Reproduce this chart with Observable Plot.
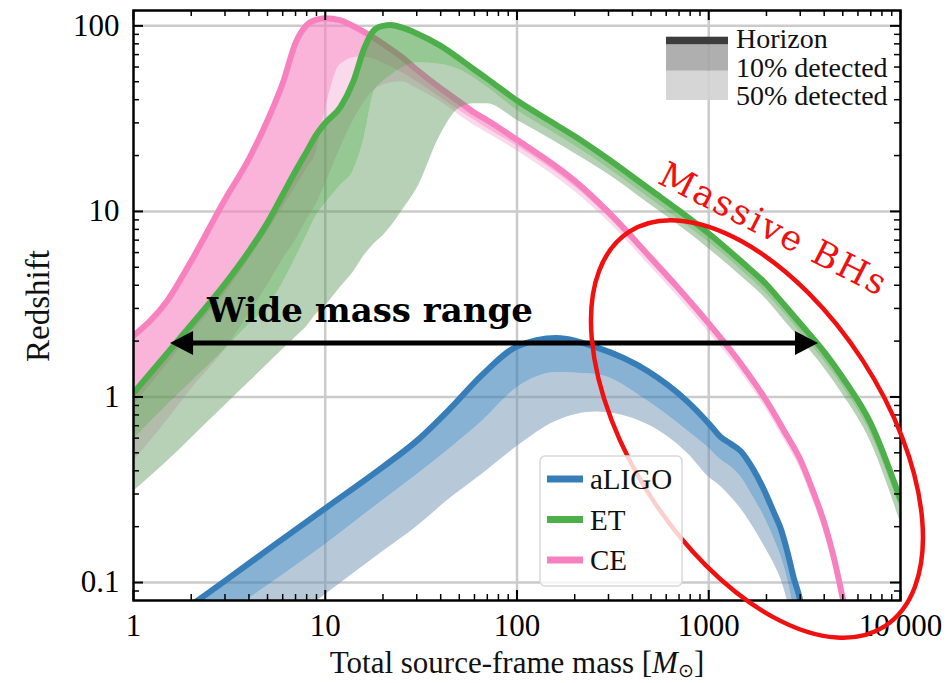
<!DOCTYPE html>
<html><head><meta charset="utf-8">
<script src="https://cdn.jsdelivr.net/npm/d3@7"></script>
<script src="https://cdn.jsdelivr.net/npm/@observablehq/plot@0.6"></script>
<style>body{margin:0;background:#fff} #chart{width:952px;height:683px}</style>
</head><body><div id="chart"></div>
<script>
// ---------- data (total source-frame mass [Msun] -> redshift) ----------
const ligoMass    = [1, 2, 3, 5, 10, 20, 30, 45, 65, 100, 160, 260, 480, 770, 1000, 1150, 1300, 1470, 1700, 1930, 2200, 2370, 2600, 2780, 3000, 3300];
const ligoHorizon = [0.045, 0.0756, 0.102, 0.15, 0.251, 0.42, 0.58, 0.87, 1.3, 1.87, 2.08, 1.85, 1.38, 0.95, 0.72, 0.61, 0.56, 0.51, 0.41, 0.32, 0.235, 0.196, 0.14, 0.105, 0.08, 0.04];
const ligo10      = [0.029, 0.048, 0.066, 0.096, 0.16, 0.277, 0.38, 0.53, 0.73, 1.12, 1.35, 1.32, 0.95, 0.66, 0.53, 0.46, 0.42, 0.37, 0.29, 0.23, 0.17, 0.14, 0.1, 0.07, 0.04, 0.02];
const ligo50      = [0.014, 0.024, 0.033, 0.05, 0.086, 0.147, 0.2, 0.285, 0.38, 0.54, 0.74, 0.83, 0.71, 0.5, 0.37, 0.33, 0.29, 0.25, 0.2, 0.16, 0.125, 0.105, 0.075, 0.05, 0.03, 0.015];

const etMass    = [1, 1.5, 2, 3, 4, 5, 6, 7, 8, 9, 10, 12, 14, 16, 18, 20, 22, 25, 30, 40, 50, 60, 70, 100, 150, 200, 300, 500, 700, 1000, 1500, 2000, 2500, 3000, 4000, 5000, 7000, 10000];
const etHorizon = [1.05, 1.72, 2.45, 4.07, 6.1, 8.7, 12.3, 16.5, 21, 26, 30, 36.5, 50, 76, 95, 100, 101, 98, 91, 78, 66.6, 58, 51.8, 39.6, 30.5, 25.4, 19.1, 13, 10.1, 7.6, 5.3, 4.04, 3.1, 2.49, 1.75, 1.27, 0.72, 0.28];
const et10      = [0.59, 0.9, 1.2, 1.8, 2.45, 3.05, 4.1, 5.6, 7.4, 9.5, 11, 13.8, 16.5, 25, 44, 50, 54, 59, 63, 62, 58, 52, 46.5, 35, 27, 22.5, 17, 11.6, 9.0, 6.8, 4.75, 3.6, 2.78, 2.22, 1.56, 1.13, 0.63, 0.245];
const et50      = [0.31, 0.45, 0.6, 0.9, 1.2, 1.5, 1.8, 2.1, 2.4, 2.8, 3.1, 3.9, 4.7, 5.8, 6.7, 7.4, 8.3, 10, 13.2, 26, 36, 38, 38, 31, 24.5, 20.5, 15.8, 10.8, 8.4, 6.3, 4.4, 3.35, 2.55, 2.05, 1.43, 1.03, 0.57, 0.21];

const ceMass    = [1, 1.5, 2, 3, 4, 5, 6, 7, 8, 9, 10, 12, 15, 18, 20, 25, 30, 40, 50, 60, 70, 100, 150, 200, 300, 500, 700, 1000, 1500, 2000, 2500, 3000, 3500, 4000, 4500, 5000, 5500];
const ceHorizon = [2.14, 3.3, 5.4, 11.6, 19.2, 31, 49, 81, 101, 108, 110, 107, 96, 86, 80, 68, 58, 46, 39, 34, 31, 24.3, 18.3, 14.6, 9.9, 5.6, 3.82, 2.49, 1.47, 0.953, 0.644, 0.46, 0.31, 0.21, 0.135, 0.082, 0.05];
const ce10      = [0.9, 1.5, 2.2, 3.6, 5.5, 7.8, 10.5, 13.5, 17, 21, 35, 62, 68, 66, 63, 56, 50, 41, 35, 31, 28, 22.5, 17, 13.6, 9.3, 5.3, 3.62, 2.36, 1.4, 0.905, 0.61, 0.435, 0.293, 0.198, 0.127, 0.077, 0.047];
const ce50      = [0.45, 0.75, 1.1, 1.8, 2.8, 4.0, 5.5, 7, 9, 11, 14, 22, 35, 45, 48, 50, 46, 39, 33, 29, 26.5, 21.2, 16, 12.8, 8.8, 5.0, 3.42, 2.23, 1.32, 0.855, 0.575, 0.41, 0.275, 0.186, 0.12, 0.072, 0.044];

const detectors = ["aLIGO", "ET", "CE"];
const detectorColors = ["#377eb8", "#4daf4a", "#f781bf"];
const bandLabels = ["Horizon", "10% detected", "50% detected"];

const xMajor = [1, 10, 100, 1000, 10000];
const xTickLabels = ["1", "10", "100", "1000", "10\u2009000"];
const yMajor = [0.1, 1, 10, 100];
const yTickLabels = ["0.1", "1", "10", "100"];

// annotations (data coordinates)
const arrowMass = [1.56, 3735];
const arrowZ = 1.94;
const wideLabel = {text: "Wide mass range", m: 17.2, z: 2.52};
const massiveLabel = {text: "Massive BHs", m: 2200, z: 8.0};
const ellipseCenter = {m: 1795, z: 0.668};

// ---------- layout ----------
const W = 952, H = 683, mL = 133, mR = 52, mT = 10, mB = 83;
const iw = W - mL - mR, ih = H - mT - mB;
const serif = "Liberation Serif, serif";

const rows = (mass, hz, p10, p50) => mass.map((m, i) => ({m, h: hz[i], p10: p10[i], p50: p50[i]}));
const series = [
  {data: rows(ceMass, ceHorizon, ce10, ce50), line: detectorColors[2], dark: "#f781bf", darkOp: 0.6, light: "#ee8cc2", lightOp: 0.33},
  {data: rows(etMass, etHorizon, et10, et50), line: detectorColors[1], dark: "#3f9a3d", darkOp: 0.55, light: "#5d9a5b", lightOp: 0.45},
  {data: rows(ligoMass, ligoHorizon, ligo10, ligo50), line: detectorColors[0], dark: "#377eb8", darkOp: 0.6, light: "#6f93b3", lightOp: 0.5}
];

const xMinor = [], yMinor = [];
for (const d of [1, 10, 100, 1000]) for (let k = 2; k <= 9; k++) xMinor.push(k * d);
for (const d of [0.01, 0.1, 1, 10]) for (let k = 2; k <= 9; k++) { const v = +(k * d).toPrecision(3); if (v > 0.08 && v < 121) yMinor.push(v); }

const curve = "monotone-x";
const plot = Plot.plot({
  width: W, height: H,
  marginLeft: mL, marginRight: mR, marginTop: mT, marginBottom: mB,
  style: {fontFamily: serif, background: "white", color: "black"},
  x: {type: "log", domain: [1, 10000]},
  y: {type: "log", domain: [0.08, 121]},
  marks: [
    Plot.ruleX(xMajor.slice(1, -1), {stroke: "#cbcbcb", strokeWidth: 2.5}),
    Plot.ruleY(yMajor, {stroke: "#cbcbcb", strokeWidth: 2.5}),
    ...series.flatMap(s => [
      Plot.areaY(s.data, {x: "m", y1: "p50", y2: "p10", fill: s.light, fillOpacity: s.lightOp, curve, clip: true}),
      Plot.areaY(s.data, {x: "m", y1: "p10", y2: "h", fill: s.dark, fillOpacity: s.darkOp, curve, clip: true}),
      Plot.line(s.data, {x: "m", y: "h", stroke: s.line, strokeWidth: 6, curve, clip: true})
    ]),
    // inward ticks on all four sides
    Plot.ruleX(xMajor, {stroke: "black", strokeWidth: 2, insetTop: ih - 10}),
    Plot.ruleX(xMajor, {stroke: "black", strokeWidth: 2, insetBottom: ih - 10}),
    Plot.ruleX(xMinor, {stroke: "black", strokeWidth: 1.5, insetTop: ih - 6}),
    Plot.ruleX(xMinor, {stroke: "black", strokeWidth: 1.5, insetBottom: ih - 6}),
    Plot.ruleY(yMajor, {stroke: "black", strokeWidth: 2, insetRight: iw - 10}),
    Plot.ruleY(yMajor, {stroke: "black", strokeWidth: 2, insetLeft: iw - 10}),
    Plot.ruleY(yMinor, {stroke: "black", strokeWidth: 1.5, insetRight: iw - 6}),
    Plot.ruleY(yMinor, {stroke: "black", strokeWidth: 1.5, insetLeft: iw - 6}),
    Plot.frame({stroke: "black", strokeWidth: 2.5}),
    Plot.axisX(xMajor, {tickSize: 0, tickPadding: 13, fontSize: 31, label: null, tickFormat: d => xTickLabels[xMajor.indexOf(d)]}),
    Plot.axisY(yMajor, {tickSize: 0, tickPadding: 14, fontSize: 31, label: null, tickFormat: d => yTickLabels[yMajor.indexOf(d)]})
  ]
});
document.getElementById("chart").appendChild(plot);

// ---------- annotations & legends ----------
const sx = plot.scale("x"), sy = plot.scale("y");
const svg = d3.select(plot);
const g = svg.append("g");

// axis titles
const xt = g.append("text").attr("x", 517).attr("y", 673).attr("text-anchor", "middle")
  .attr("font-family", serif).attr("font-size", 31).attr("fill", "#111");
xt.append("tspan").text("Total source-frame mass [");
xt.append("tspan").attr("font-style", "italic").text("M");
xt.append("tspan").attr("font-size", 19).attr("dy", 4).text("\u2299");
xt.append("tspan").attr("dy", -4).text("]");
g.append("text").attr("transform", "translate(49,306) rotate(-90)").attr("text-anchor", "middle")
  .attr("font-family", serif).attr("font-size", 33).attr("fill", "#111").text("Redshift");

// double arrow
const ax1 = sx.apply(arrowMass[0]), ax2 = sx.apply(arrowMass[1]), ay = sy.apply(arrowZ);
const hl = 23, hw = 12;
g.append("line").attr("x1", ax1 + hl - 2).attr("x2", ax2 - hl + 2).attr("y1", ay).attr("y2", ay)
  .attr("stroke", "black").attr("stroke-width", 5);
g.append("path").attr("d", `M${ax1},${ay}L${ax1 + hl},${ay - hw}L${ax1 + hl},${ay + hw}Z`).attr("fill", "black");
g.append("path").attr("d", `M${ax2},${ay}L${ax2 - hl},${ay - hw}L${ax2 - hl},${ay + hw}Z`).attr("fill", "black");
g.append("text").attr("x", sx.apply(wideLabel.m)).attr("y", sy.apply(wideLabel.z)).attr("text-anchor", "middle")
  .attr("font-family", "DejaVu Serif, serif").attr("font-weight", "bold").attr("font-size", 34)
  .attr("fill", "black").text(wideLabel.text);

// red ellipse + label
g.append("ellipse")
  .attr("transform", `translate(${sx.apply(ellipseCenter.m)},${sy.apply(ellipseCenter.z)}) rotate(57)`)
  .attr("rx", 235).attr("ry", 126).attr("fill", "none").attr("stroke", "#f01010").attr("stroke-width", 4.5);
g.append("text")
  .attr("transform", `translate(${sx.apply(massiveLabel.m)},${sy.apply(massiveLabel.z)}) rotate(27)`)
  .attr("text-anchor", "middle").attr("dominant-baseline", "central")
  .attr("font-family", "DejaVu Serif, serif").attr("font-size", 35).attr("letter-spacing", 2)
  .attr("fill", "#f01010").text(massiveLabel.text);

// detector legend
const lg = g.append("g");
lg.append("rect").attr("x", 540).attr("y", 456).attr("width", 142).attr("height", 130).attr("rx", 5)
  .attr("fill", "white").attr("fill-opacity", 0.8).attr("stroke", "#d9d9d9").attr("stroke-width", 1.5);
detectors.forEach((d, i) => {
  const y = 479 + i * 40.5;
  lg.append("line").attr("x1", 547).attr("x2", 583).attr("y1", y).attr("y2", y)
    .attr("stroke", detectorColors[i]).attr("stroke-width", 7);
  lg.append("text").attr("x", 590).attr("y", y).attr("dy", "0.35em").attr("text-anchor", "start")
    .attr("font-family", serif).attr("font-size", 29).attr("fill", "#111").text(d);
});

// band legend
const bl = g.append("g");
bl.append("rect").attr("x", 666).attr("y", 70.7).attr("width", 62).attr("height", 29.3).attr("fill", "#d2d2d2").attr("fill-opacity", 0.9);
bl.append("rect").attr("x", 666).attr("y", 44.3).attr("width", 62).attr("height", 26.4).attr("fill", "#a6a6a6").attr("fill-opacity", 0.9);
bl.append("rect").attr("x", 666).attr("y", 36.7).attr("width", 62).attr("height", 7.6).attr("fill", "#3c3c3c");
bandLabels.forEach((t, i) => {
  bl.append("text").attr("x", 736).attr("y", 38 + i * 28.7).attr("dy", "0.35em").attr("text-anchor", "start")
    .attr("font-family", serif).attr("font-size", 28).attr("fill", "#111").text(t);
});
</script>
</body></html>
